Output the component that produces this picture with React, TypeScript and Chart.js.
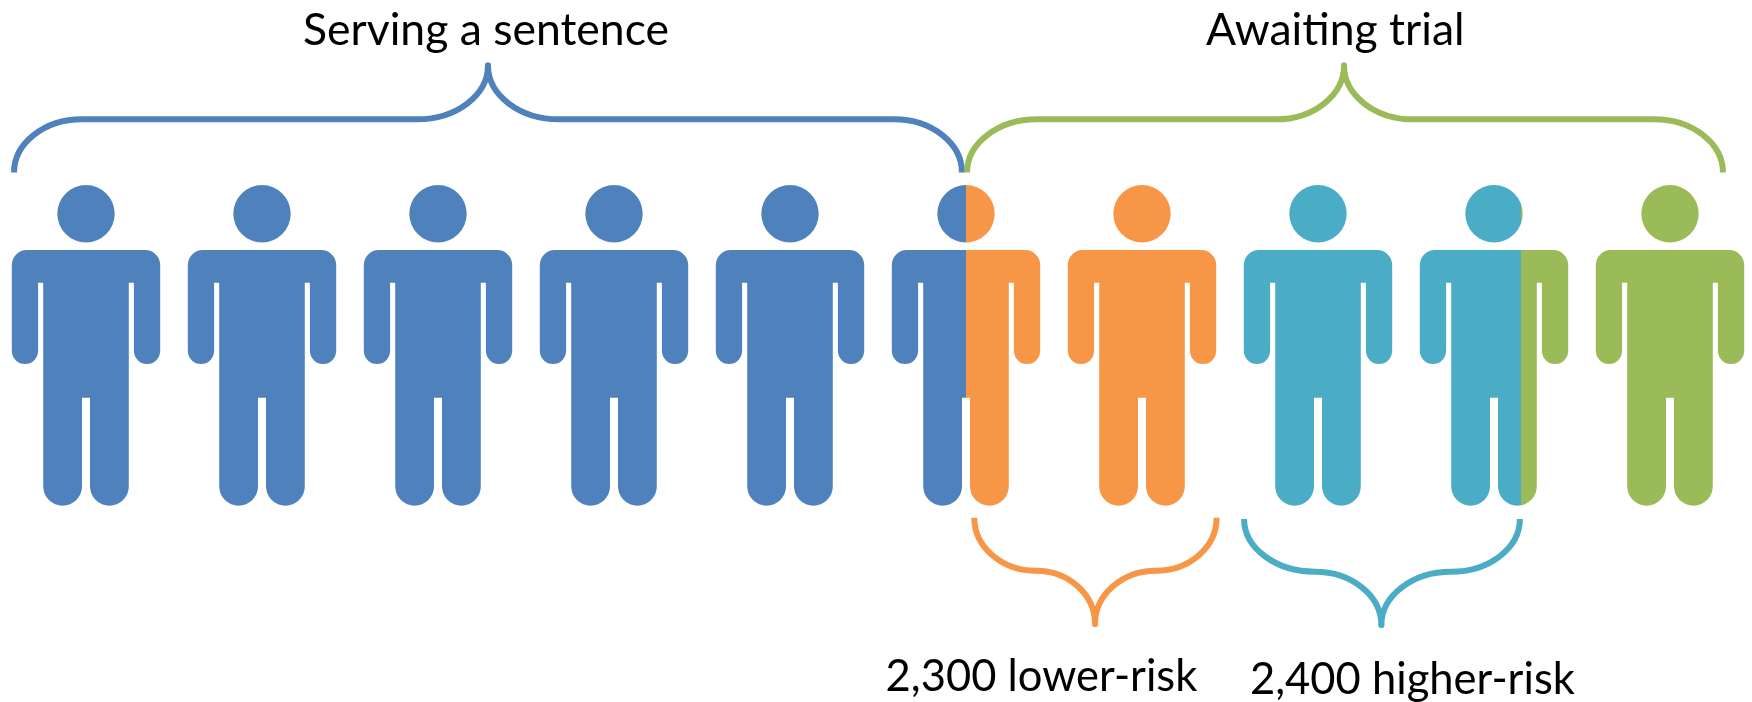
import React, { useEffect, useRef } from "react";
import { Chart, registerables } from "chart.js";

Chart.register(...registerables);

// One figure per position along the row.
const personPositions = [1, 2, 3, 4, 5, 6, 7, 8, 9, 10];

// Share of each figure that belongs to each group.
const servingShares = [1, 1, 1, 1, 1, 0.5, 0, 0, 0, 0];
const lowerRiskShares = [0, 0, 0, 0, 0, 0.5, 1, 0, 0, 0];
const higherRiskShares = [0, 0, 0, 0, 0, 0, 0, 1, 0.68, 0];
const otherTrialShares = [0, 0, 0, 0, 0, 0, 0, 0, 0.32, 1];

// Braces in person units: start, bar start, bar stop, tip, bar restart, bar end, end.
const servingBrace = [0.591, 0.977, 2.881, 3.284, 3.688, 5.591, 5.977];
const awaitingBrace = [6.006, 6.403, 7.761, 8.148, 8.54, 9.909, 10.301];
const lowerRiskBrace = [6.047, 6.398, 6.398, 6.733, 7.08, 7.08, 7.424];
const higherRiskBrace = [7.58, 7.983, 7.983, 8.36, 8.756, 8.756, 9.147];

const servingLabel = "Serving a sentence";
const awaitingLabel = "Awaiting trial";
const lowerRiskLabel = "2,300 lower-risk";
const higherRiskLabel = "2,400 higher-risk";

const BLUE = "#4F81BD";
const ORANGE = "#F79646";
const TEAL = "#4BACC6";
const GREEN = "#9BBB59";

const FIGURE_W = 150;
const FIGURE_H = 322;
const ROW_Y = 346;
const HALF = 74.2;

function tracePerson(ctx: CanvasRenderingContext2D) {
  const cx = FIGURE_W / 2;
  ctx.beginPath();
  ctx.arc(cx, 28.7, 28.7, 0, Math.PI * 2);
  ctx.closePath();

  const sh = 65; // shoulder line
  const armIn = 47.9;
  const torso = 42.8;
  const armpit = 97.7;
  const armEnd = 179;
  const crotch = 212.7;
  const legGap = 4;
  const legEnd = 320.7;
  const cr = 15;
  const armR = (HALF - armIn) / 2;
  const legR = (torso - legGap) / 2;

  ctx.moveTo(cx - HALF + cr, sh);
  ctx.lineTo(cx + HALF - cr, sh);
  ctx.arcTo(cx + HALF, sh, cx + HALF, sh + cr, cr);
  ctx.lineTo(cx + HALF, armEnd - armR);
  ctx.arc(cx + HALF - armR, armEnd - armR, armR, 0, Math.PI);
  ctx.lineTo(cx + armIn, armpit);
  ctx.lineTo(cx + torso, armpit);
  ctx.lineTo(cx + torso, legEnd - legR);
  ctx.arc(cx + torso - legR, legEnd - legR, legR, 0, Math.PI);
  ctx.lineTo(cx + legGap, crotch);
  ctx.lineTo(cx - legGap, crotch);
  ctx.lineTo(cx - legGap, legEnd - legR);
  ctx.arc(cx - torso + legR, legEnd - legR, legR, 0, Math.PI);
  ctx.lineTo(cx - torso, armpit);
  ctx.lineTo(cx - armIn, armpit);
  ctx.lineTo(cx - armIn, armEnd - armR);
  ctx.arc(cx - HALF + armR, armEnd - armR, armR, 0, Math.PI);
  ctx.lineTo(cx - HALF, sh + cr);
  ctx.arcTo(cx - HALF, sh, cx - HALF + cr, sh, cr);
  ctx.closePath();
}

function figure(color: string, from: number, to: number) {
  const c = document.createElement("canvas");
  c.width = FIGURE_W;
  c.height = FIGURE_H;
  const ctx = c.getContext("2d")!;
  const left = FIGURE_W / 2 - HALF;
  const x0 = from <= 0 ? 0 : Math.round(left + from * HALF * 2);
  const x1 = to >= 1 ? FIGURE_W : Math.round(left + to * HALF * 2);
  ctx.save();
  ctx.beginPath();
  ctx.rect(x0, 0, x1 - x0, FIGURE_H);
  ctx.clip();
  tracePerson(ctx);
  ctx.fillStyle = color;
  ctx.fill();
  ctx.restore();
  return c;
}

const groups = [
  { label: "Serving a sentence", shares: servingShares, color: BLUE },
  { label: "Lower-risk", shares: lowerRiskShares, color: ORANGE },
  { label: "Higher-risk", shares: higherRiskShares, color: TEAL },
  { label: "Other awaiting trial", shares: otherTrialShares, color: GREEN },
];

function buildDatasets() {
  return groups.map((g, gi) => {
    const data: { x: number; y: number }[] = [];
    const styles: HTMLCanvasElement[] = [];
    personPositions.forEach((p, i) => {
      if (g.shares[i] <= 0) return;
      let from = 0;
      for (let k = 0; k < gi; k++) from += groups[k].shares[i];
      data.push({ x: p, y: ROW_Y });
      styles.push(figure(g.color, from, from + g.shares[i]));
    });
    return {
      label: g.label,
      data,
      pointStyle: styles,
      pointRadius: 5,
      showLine: false,
      backgroundColor: g.color,
    };
  });
}

type Brace = { xs: number[]; end: number; bar: number; tip: number; color: string };

const braces: Brace[] = [
  { xs: servingBrace, end: 172.5, bar: 119.3, tip: 65.5, color: BLUE },
  { xs: awaitingBrace, end: 172.5, bar: 119.3, tip: 65.5, color: GREEN },
  { xs: lowerRiskBrace, end: 517.7, bar: 570.7, tip: 624, color: ORANGE },
  { xs: higherRiskBrace, end: 519, bar: 571.7, tip: 625, color: TEAL },
];

const labels = [
  { text: servingLabel, x: 1 + (303 - 86) / 176, y: 44.5, size: 44.5 },
  { text: awaitingLabel, x: 1 + (1206 - 86) / 176, y: 44.5, size: 44.5 },
  { text: lowerRiskLabel, x: 1 + (885.6 - 86) / 176, y: 691, size: 43.5 },
  { text: higherRiskLabel, x: 1 + (1250 - 86) / 176, y: 693.5, size: 43.5 },
];

const annotate = {
  id: "annotate",
  afterDatasetsDraw(chart: any) {
    const { ctx, scales } = chart;
    const X = (v: number) => scales.x.getPixelForValue(v);
    const Y = (v: number) => scales.y.getPixelForValue(v);
    const k = 0.5523;
    ctx.save();
    braces.forEach((b) => {
      const [a, s1, s2, t, s3, s4, e] = b.xs.map(X);
      const yE = Y(b.end);
      const yB = Y(b.bar);
      const yT = Y(b.tip);
      ctx.strokeStyle = b.color;
      ctx.lineWidth = 6;
      ctx.lineCap = "butt";
      ctx.lineJoin = "round";
      ctx.beginPath();
      ctx.moveTo(a, yE);
      ctx.bezierCurveTo(a, yE + (yB - yE) * k, s1 - (s1 - a) * k, yB, s1, yB);
      ctx.lineTo(s2, yB);
      ctx.bezierCurveTo(s2 + (t - s2) * k, yB, t, yT + (yB - yT) * k, t, yT);
      ctx.bezierCurveTo(t, yT + (yB - yT) * k, s3 - (s3 - t) * k, yB, s3, yB);
      ctx.lineTo(s4, yB);
      ctx.bezierCurveTo(s4 + (e - s4) * k, yB, e, yE + (yB - yE) * k, e, yE);
      ctx.stroke();
      ctx.beginPath();
      ctx.arc(t, yT, 3, 0, Math.PI * 2);
      ctx.fillStyle = b.color;
      ctx.fill();
    });
    ctx.fillStyle = "#000";
    ctx.textAlign = "left";
    ctx.textBaseline = "alphabetic";
    labels.forEach((l) => {
      ctx.font = `${l.size}px Lato, "Noto Sans", sans-serif`;
      ctx.fillText(l.text, X(l.x), Y(l.y));
    });
    ctx.restore();
  },
};

export default function App() {
  const ref = useRef<HTMLCanvasElement>(null);
  useEffect(() => {
    const chart = new Chart(ref.current!, {
      type: "scatter",
      data: { datasets: buildDatasets() as any },
      options: {
        animation: false,
        responsive: false,
        devicePixelRatio: 1,
        layout: { padding: 0, autoPadding: false },
        clip: false as any,
        plugins: { legend: { display: false }, tooltip: { enabled: false }, title: { display: false } },
        scales: {
          x: { type: "linear", display: false, min: 1 - 86 / 176, max: 1 + (1752 - 86) / 176 },
          y: { type: "linear", display: false, reverse: true, min: 0, max: 702 },
        },
      },
      plugins: [annotate],
    });
    return () => chart.destroy();
  }, []);
  return (
    <canvas
      ref={ref}
      width={1752}
      height={702}
      style={{ position: "fixed", left: 0, top: 0, width: 1752, height: 702, display: "block" }}
    />
  );
}
